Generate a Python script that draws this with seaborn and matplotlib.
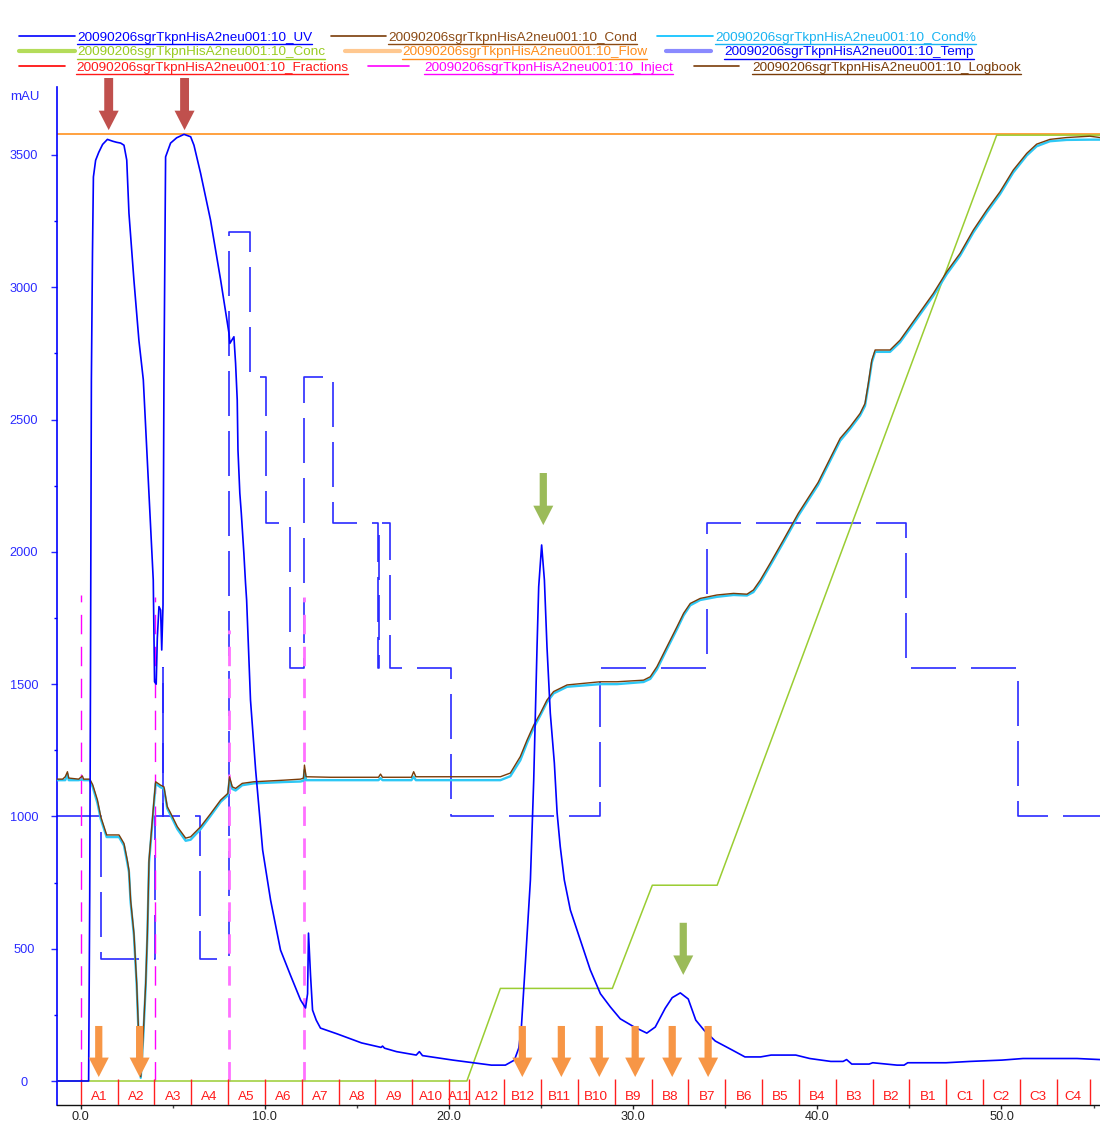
import matplotlib
matplotlib.use("Agg")
import matplotlib.pyplot as plt
from matplotlib.lines import Line2D
import seaborn as sns

RUN = "20090206sgrTkpnHisA2neu001:10"
trace_suffixes = ["UV", "Cond", "Cond%", "Conc", "Flow", "Temp", "Fractions", "Inject", "Logbook"]

# UV absorbance trace (min, mAU)
uv_time = [-1.29, 0.43, 0.49, 0.53, 0.58, 0.64, 0.69, 0.81, 0.98, 1.19, 1.45, 1.74, 1.95, 2.17,
           2.35, 2.50, 2.62, 2.89, 3.16, 3.40, 3.58, 3.80, 3.94, 4.01, 4.10, 4.16, 4.25, 4.34,
           4.40, 4.47, 4.52, 4.61, 4.88, 5.21, 5.61, 5.97, 6.15, 6.51, 7.05, 7.60, 8.05, 8.10,
           8.32, 8.41, 8.50, 8.54, 8.64, 8.72, 8.86, 8.95, 9.01, 9.22, 9.50, 9.88, 10.31, 10.85,
           11.39, 11.94, 12.21, 12.32, 12.37, 12.48, 12.59, 12.79, 13.02, 13.93, 15.25, 16.31,
           16.39, 16.50, 17.15, 18.22, 18.39, 18.56, 20.21, 22.30, 23.06, 23.55, 23.79, 23.93,
           24.15, 24.42, 24.51, 24.60, 24.69, 24.78, 24.87, 25.03, 25.18, 25.32, 25.50, 25.72,
           25.87, 26.04, 26.26, 26.59, 27.13, 27.67, 28.22, 28.76, 29.30, 30.06, 30.74, 31.20,
           31.40, 31.74, 32.12, 32.56, 32.99, 33.40, 33.86, 34.46, 35.38, 36.07, 36.92, 37.49,
           38.83, 39.59, 40.73, 41.40, 41.59, 41.87, 42.81, 43.01, 44.33, 44.71, 44.91, 46.99,
           48.29, 50.03, 51.17, 54.10, 55.35]
uv_mau = [0, 0, 700, 1500, 2650, 3130, 3417, 3480, 3510, 3540, 3559, 3552, 3548, 3545,
          3537, 3481, 3280, 3027, 2800, 2650, 2400, 2100, 1893, 1509, 1500, 1674, 1793, 1780,
          1629, 1800, 2650, 3493, 3545, 3565, 3578, 3569, 3537, 3431, 3254, 3027, 2827, 2788,
          2813, 2713, 2574, 2385, 2222, 2147, 1995, 1882, 1818, 1440, 1175, 873, 684, 495,
          400, 306, 276, 330, 559, 400, 268, 230, 200, 178, 144, 127,
          132, 124, 111, 98, 111, 96, 79, 60, 60, 79, 125, 204,
          450, 760, 949, 1138, 1391, 1641, 1868, 2026, 1893, 1641, 1390, 1202,
          1013, 886, 760, 646, 533, 420, 330, 280, 235, 204, 181, 204,
          230, 275, 315, 333, 310, 230, 191, 151, 117, 91, 91, 98,
          98, 85, 74, 74, 81, 64, 64, 69, 60, 60, 69, 69,
          74, 79, 85, 85, 81]

# Conductivity traces (shared time base)
cond_time = [-1.29, -0.98, -0.84, -0.72, -0.65, -0.11, 0.09, 0.16, 0.49, 0.65, 0.91, 1.09, 1.41,
             2.08, 2.35, 2.53, 2.62, 2.71, 2.89, 3.04, 3.13, 3.26, 3.40, 3.53, 3.62, 3.71, 3.98,
             4.07, 4.34, 4.52, 4.70, 4.88, 5.25, 5.70, 5.97, 6.51, 7.05, 7.60, 7.99, 8.08, 8.23,
             8.41, 8.77, 9.40, 11.03, 11.94, 12.10, 12.15, 12.24, 13.56, 16.17, 16.28, 16.39,
             17.96, 18.08, 18.20, 22.79, 23.33, 23.87, 24.24, 24.60, 24.96, 25.32, 25.68, 26.41,
             27.31, 28.21, 29.12, 30.56, 30.93, 31.29, 31.83, 32.38, 32.74, 33.10, 33.64, 34.55,
             35.45, 36.18, 36.53, 36.90, 37.44, 38.16, 38.97, 40.04, 41.24, 41.78, 42.32, 42.59,
             42.77, 42.96, 43.14, 43.95, 44.49, 45.40, 46.30, 47.03, 47.75, 48.47, 49.20, 49.92,
             50.64, 51.37, 51.91, 52.63, 53.54, 54.80, 55.35]
cond_value = [1141, 1141, 1150, 1169, 1145, 1141, 1153, 1141, 1141, 1120, 1062, 999, 930,
              930, 898, 835, 797, 684, 559, 370, 205, 16, 181, 370, 559, 835, 1062,
              1131, 1118, 1112, 1037, 1013, 961, 918, 923, 961, 1010, 1062, 1087, 1150, 1112,
              1106, 1125, 1131, 1137, 1141, 1145, 1194, 1150, 1148, 1148, 1160, 1148,
              1148, 1169, 1150, 1150, 1164, 1226, 1289, 1345, 1390, 1440, 1472, 1497,
              1503, 1509, 1509, 1515, 1528, 1566, 1641, 1717, 1768, 1805, 1824, 1837,
              1843, 1840, 1856, 1893, 1957, 2045, 2146, 2262, 2429, 2473, 2523, 2561,
              2637, 2725, 2763, 2763, 2800, 2889, 2977, 3059, 3128, 3216, 3292, 3361,
              3443, 3506, 3541, 3559, 3566, 3571, 3566]
cond_pct_value = [1137, 1137, 1137, 1160, 1137, 1137, 1140, 1137, 1137, 1112, 1050, 990, 922,
                  922, 890, 825, 790, 676, 550, 362, 198, 12, 170, 360, 550, 825, 1050,
                  1124, 1110, 1105, 1030, 1005, 952, 908, 912, 952, 1002, 1055, 1080, 1140, 1104,
                  1098, 1118, 1125, 1130, 1132, 1135, 1175, 1137, 1137, 1137, 1145, 1137,
                  1137, 1150, 1137, 1137, 1152, 1212, 1278, 1335, 1382, 1432, 1465, 1490,
                  1495, 1500, 1500, 1508, 1520, 1556, 1632, 1708, 1760, 1798, 1818, 1830,
                  1837, 1835, 1848, 1884, 1948, 2036, 2137, 2253, 2420, 2465, 2515, 2552,
                  2628, 2716, 2756, 2756, 2792, 2880, 2968, 3050, 3119, 3207, 3283, 3352,
                  3434, 3498, 3533, 3552, 3557, 3558, 3558]

# Gradient concentration and flow (drawn on the mAU scale)
conc_time = [-1.29, 20.97, 22.79, 28.87, 31.04, 34.56, 49.74, 55.35]
conc_value = [0, 0, 350, 350, 740, 740, 3575, 3575]
flow_time = [-1.29, 55.35]
flow_value = [3578, 3578]

# Temperature trace (step changes)
temp_time = [-1.29, 1.09, 4.05, 4.45, 4.47, 6.50, 8.03, 9.17, 10.04, 11.34, 12.10, 13.70,
             16.15, 16.20, 16.82, 20.13, 28.20, 34.00, 44.80, 50.90, 55.35]
temp_value = [1000, 460, 1000, 1560, 1000, 460, 3210, 2660, 2110, 1560, 2660, 2110,
              1560, 2110, 1560, 1000, 1560, 2110, 1560, 1000, 1000]

# Fraction collection
frac_bounds = [0, 2, 4, 6, 8, 10, 12, 14, 16, 18, 20, 21.1, 23, 25, 27, 29, 31, 33, 35, 37,
               39, 41, 43, 45, 47, 49, 51, 53, 54.8]
frac_labels = ["A1", "A2", "A3", "A4", "A5", "A6", "A7", "A8", "A9", "A10", "A11", "A12",
               "B12", "B11", "B10", "B9", "B8", "B7", "B6", "B5", "B4", "B3", "B2", "B1",
               "C1", "C2", "C3", "C4"]

# Injection marks
inject_time = [0.0, 4.05, 8.05, 12.12]
inject_top = [1837, 1829, 1705, 1829]

# Highlight arrows
red_arrow_x = [1.52, 5.64]
green_arrow_x = [25.12, 32.72]
green_arrow_tip = [2101, 401]
orange_arrow_x = [0.98, 3.20, 23.98, 26.10, 28.16, 30.11, 32.12, 34.07]

sns.set_theme(style="white")
plt.rcParams["font.family"] = ["Liberation Sans", "DejaVu Sans"]

W, H = 1100, 1124
fig = plt.figure(figsize=(W / 100, H / 100), dpi=100)
ax = fig.add_axes([57 / W, 1 - 1105 / H, (W - 57) / W, (1105 - 87) / H])
ax.set_xlim(-1.287, 55.35)
ax.set_ylim(-90.7, 3757)

BLUE = "#0000ff"

# Temperature (dashed step line)
sns.lineplot(x=temp_time, y=temp_value, ax=ax, color="#2a2aff", lw=1.2,
             drawstyle="steps-post", linestyle=(0, (27, 9)), estimator=None, sort=False,
             zorder=2)

# Flow
sns.lineplot(x=flow_time, y=flow_value, ax=ax, color="#ff9a30", lw=1.3,
             estimator=None, sort=False, zorder=2.5)

# Concentration
sns.lineplot(x=conc_time, y=conc_value, ax=ax, color="#9acd32", lw=1.1,
             estimator=None, sort=False, zorder=3)

# Injection marks
for i, (t, top) in enumerate(zip(inject_time, inject_top)):
    if i < 2:
        ax.plot([t, t], [0, top], color="#ff00ff", lw=1.0, linestyle=(0, (14, 9)), zorder=2.2)
    else:
        ax.plot([t, t], [0, top], color="#ff70ff", lw=2.0, linestyle=(0, (7, 4.5)), zorder=2.2)

# Conductivity
sns.lineplot(x=cond_time, y=cond_pct_value, ax=ax, color="#2ec8f5", lw=1.7,
             estimator=None, sort=False, zorder=3.8)
sns.lineplot(x=cond_time, y=cond_value, ax=ax, color="#7a3c08", lw=1.0,
             estimator=None, sort=False, zorder=4)

# UV
sns.lineplot(x=uv_time, y=uv_mau, ax=ax, color=BLUE, lw=1.2,
             estimator=None, sort=False, zorder=5)

# Fractions
ax.vlines(frac_bounds, -95, 8, colors="#ff2020", lw=1.0, zorder=4.5)
for a, b, lab in zip(frac_bounds[:-1], frac_bounds[1:], frac_labels):
    ax.text((a + b) / 2, -60, lab, ha="center", va="center", color="#ff1a1a",
            fontsize=9.7, zorder=6)


def arrow(x, tip, tail, color, tail_w):
    ax.annotate("", xy=(x, tip), xytext=(x, tail), annotation_clip=False,
                arrowprops=dict(arrowstyle=f"simple,head_length=0.7,head_width=0.72,tail_width={tail_w}",
                                color=color, lw=0, shrinkA=0, shrinkB=0,
                                mutation_scale=20, clip_on=False), zorder=7)


for x in red_arrow_x:
    arrow(x, 3594, 3791, "#c0504d", 0.32)
for x, tip in zip(green_arrow_x, green_arrow_tip):
    arrow(x, tip, tip + 197, "#9bbb59", 0.26)
for x in orange_arrow_x:
    arrow(x, 15, 208, "#f79646", 0.26)

# Axes styling
for side in ("top", "right"):
    ax.spines[side].set_visible(False)
ax.spines["left"].set_color(BLUE)
ax.spines["left"].set_linewidth(1.2)
ax.spines["bottom"].set_color("#111111")
ax.spines["bottom"].set_linewidth(1.0)

yt = list(range(0, 4000, 500))
ax.set_yticks(yt)
ax.set_yticklabels([str(v) for v in yt])
ax.set_yticks(list(range(250, 3750, 500)), minor=True)
ax.tick_params(axis="y", which="major", left=True, length=4, width=1, colors="#2a2aff",
               labelsize=9.2, pad=19.8, direction="out")
ax.tick_params(axis="y", which="minor", left=True, length=2.5, width=1, colors=BLUE,
               direction="out")
for lab in ax.get_yticklabels():
    lab.set_ha("center")

xt = [0, 10, 20, 30, 40, 50]
ax.set_xticks(xt)
ax.set_xticklabels([f"{v:.1f}" for v in xt])
ax.set_xticks([5, 15, 25, 35, 45, 55], minor=True)
ax.tick_params(axis="x", which="major", bottom=True, length=3, width=1, colors="#222222",
               labelsize=9.2, pad=1.5, direction="out")
ax.tick_params(axis="x", which="minor", bottom=True, length=2, width=1, colors="#444444",
               direction="out")
ax.set_xlabel("")
ax.set_ylabel("")
ax.grid(False)

fig.text(10 / W, 1 - 97 / H, "mAU", ha="left", va="center", color="#2a2aff", fontsize=9.5)

# Legend with underlined trace names
renderer = fig.canvas.get_renderer()
legend_entries = [
    # line x0, line x1, text x, row y, line colour, line width, text colour
    (19, 75, 77, 37.5, BLUE, 1.2, BLUE),
    (331, 386, 388, 37.5, "#7a3c08", 1.2, "#8b4a14"),
    (657, 713, 715, 37.5, "#00bfff", 1.2, "#1ab4f2"),
    (19, 75, 77, 52.5, "#b4dc5a", 3.0, "#99cc22"),
    (345, 400, 402, 52.5, "#ffc890", 3.0, "#ff8c1a"),
    (666, 711, 724, 52.5, "#8a8aff", 3.0, BLUE),
    (19, 65, 76, 67.5, "#ff0000", 1.2, "#ff1a1a"),
    (368, 409, 424, 67.5, "#ff00ff", 1.2, "#ff00ff"),
    (694, 739, 752, 67.5, "#7a3c08", 1.2, "#7a3c08"),
]
for suffix, (lx0, lx1, tx, ry, lc, lw, tc) in zip(trace_suffixes, legend_entries):
    fig.add_artist(Line2D([lx0 / W, lx1 / W], [1 - (ry - 1.5) / H] * 2, color=lc, lw=lw))
    t = fig.text(tx / W, 1 - ry / H, f"{RUN}_{suffix}", color=tc, fontsize=9.7,
                 ha="left", va="center")
    bb = t.get_window_extent(renderer)
    uy = 1 - (ry + 6.5) / H
    fig.add_artist(Line2D([bb.x0 / W, bb.x1 / W], [uy, uy], color=tc, lw=1.0))

fig.savefig("out.png", dpi=100)
